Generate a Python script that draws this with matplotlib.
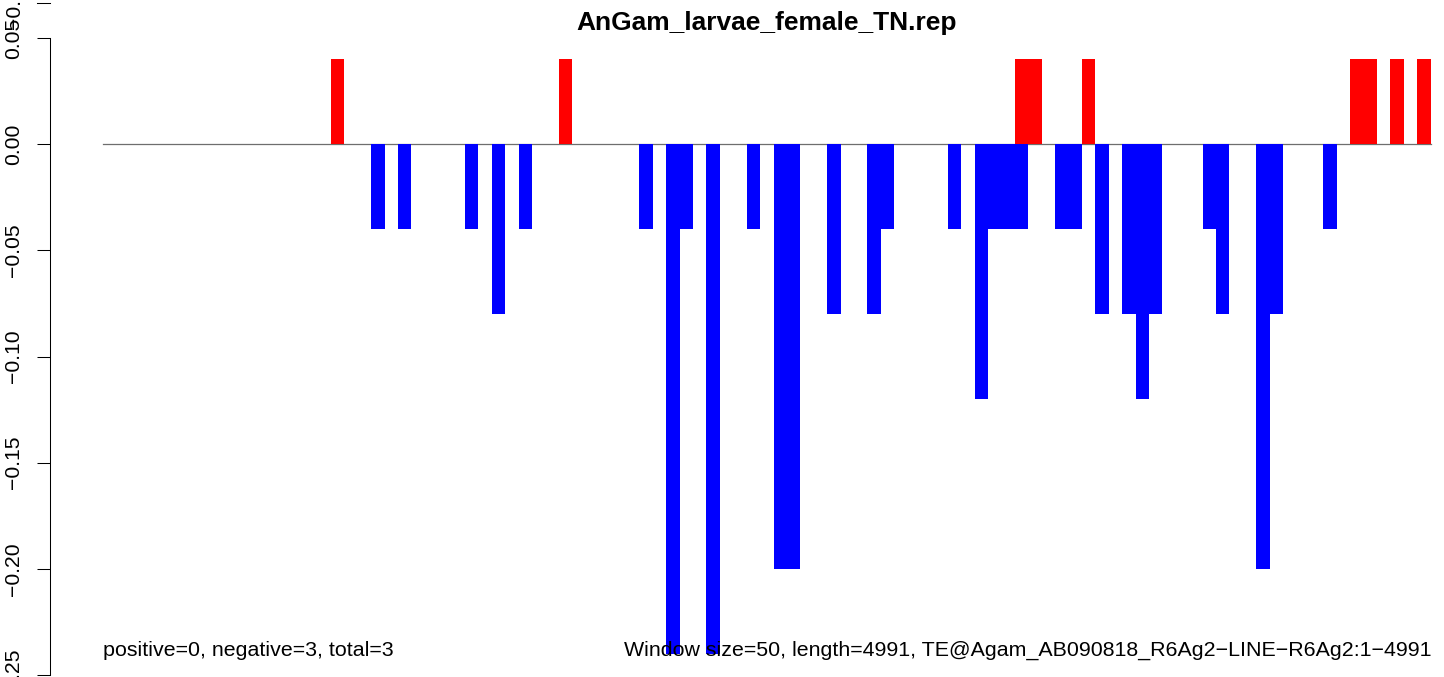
import numpy as np
import matplotlib.pyplot as plt

plt.rcParams['font.family'] = ['Liberation Sans', 'DejaVu Sans']

title = "AnGam_larvae_female_TN.rep"
n_windows = 99          # 4991 bp cut into 50 bp windows
left_note = "positive=0, negative=3, total=3"
right_note = "Window size=50, length=4991, TE@Agam_AB090818_R6Ag2\u2212LINE\u2212R6Ag2:1\u22124991"

# sense strand windows (above zero)
pos_windows = [17, 34, 68, 69, 73, 93, 94, 96, 98]
pos_values = [0.04, 0.04, 0.04, 0.04, 0.04, 0.04, 0.04, 0.04, 0.04]

# antisense strand windows (below zero)
neg_windows = [20, 22, 27, 29, 31, 40, 42, 43, 45, 48,
               50, 51, 54, 57, 58, 63, 65, 66, 67, 68,
               71, 72, 74, 76, 77, 78, 82, 83, 86, 87, 91]
neg_values = [-0.04, -0.04, -0.04, -0.08, -0.04, -0.04, -0.24, -0.04, -0.24, -0.04,
              -0.20, -0.20, -0.08, -0.08, -0.04, -0.04, -0.12, -0.04, -0.04, -0.04,
              -0.04, -0.04, -0.08, -0.08, -0.12, -0.08, -0.04, -0.08, -0.20, -0.08, -0.04]

y_ticks = [0.05, 0.00, -0.05, -0.10, -0.15, -0.20, -0.25]

W, H = 1444, 677
fig = plt.figure(figsize=(W / 100, H / 100), dpi=100)
ax = fig.add_axes([50 / W, 0, 1 - 50 / W, 1])

# pixel geometry of the plot region
px_per_win = 13.41
x0_px = 103
px_per_unit = (675 - 38) / 0.30
ax.set_xlim((50 - x0_px) / px_per_win, (W - x0_px) / px_per_win)
ax.set_ylim(-0.25 - 2 / px_per_unit, 0.05 + 38 / px_per_unit)

ax.plot([0, n_windows], [0, 0], color='#6e6e6e', lw=0.9, zorder=1)
ax.bar(pos_windows, pos_values, width=1, align='edge', color='#ff0000',
       linewidth=0, zorder=2)
ax.bar(neg_windows, neg_values, width=1, align='edge', color='#0000ff',
       linewidth=0, zorder=2)

for s in ['top', 'right', 'bottom']:
    ax.spines[s].set_visible(False)
ax.spines['left'].set_bounds(-0.25, 0.05)
ax.spines['left'].set_linewidth(0.75)
ax.set_xticks([])
ax.set_yticks(y_ticks)
ax.set_yticklabels([f"{v:.2f}".replace('-', '\u2212') for v in y_ticks],
                   rotation=90, va='center', fontsize=15.2)
ax.tick_params(axis='y', direction='out', length=9.4, width=0.75, pad=10)

ax.text(n_windows / 2, 0.05 + 8 / px_per_unit, title, ha='center',
        va='baseline', fontsize=19, fontweight='bold')
ax.text(0, -0.24 - 2 / px_per_unit, left_note, ha='left', va='baseline',
        fontsize=15.4)
ax.text(n_windows + 0.1, -0.24 - 2 / px_per_unit, right_note, ha='right',
        va='baseline', fontsize=15.4)

# bottom end of the panel above
y_up = 1 - 2.7 / H
fig.add_artist(plt.Line2D([37 / W, 50 / W], [y_up, y_up], color='black', lw=0.75))
fig.text(14.5 / W, y_up, "\u22120.25", rotation=90, ha='center', va='center',
         fontsize=15.2)

fig.savefig('out.png', dpi=100)
